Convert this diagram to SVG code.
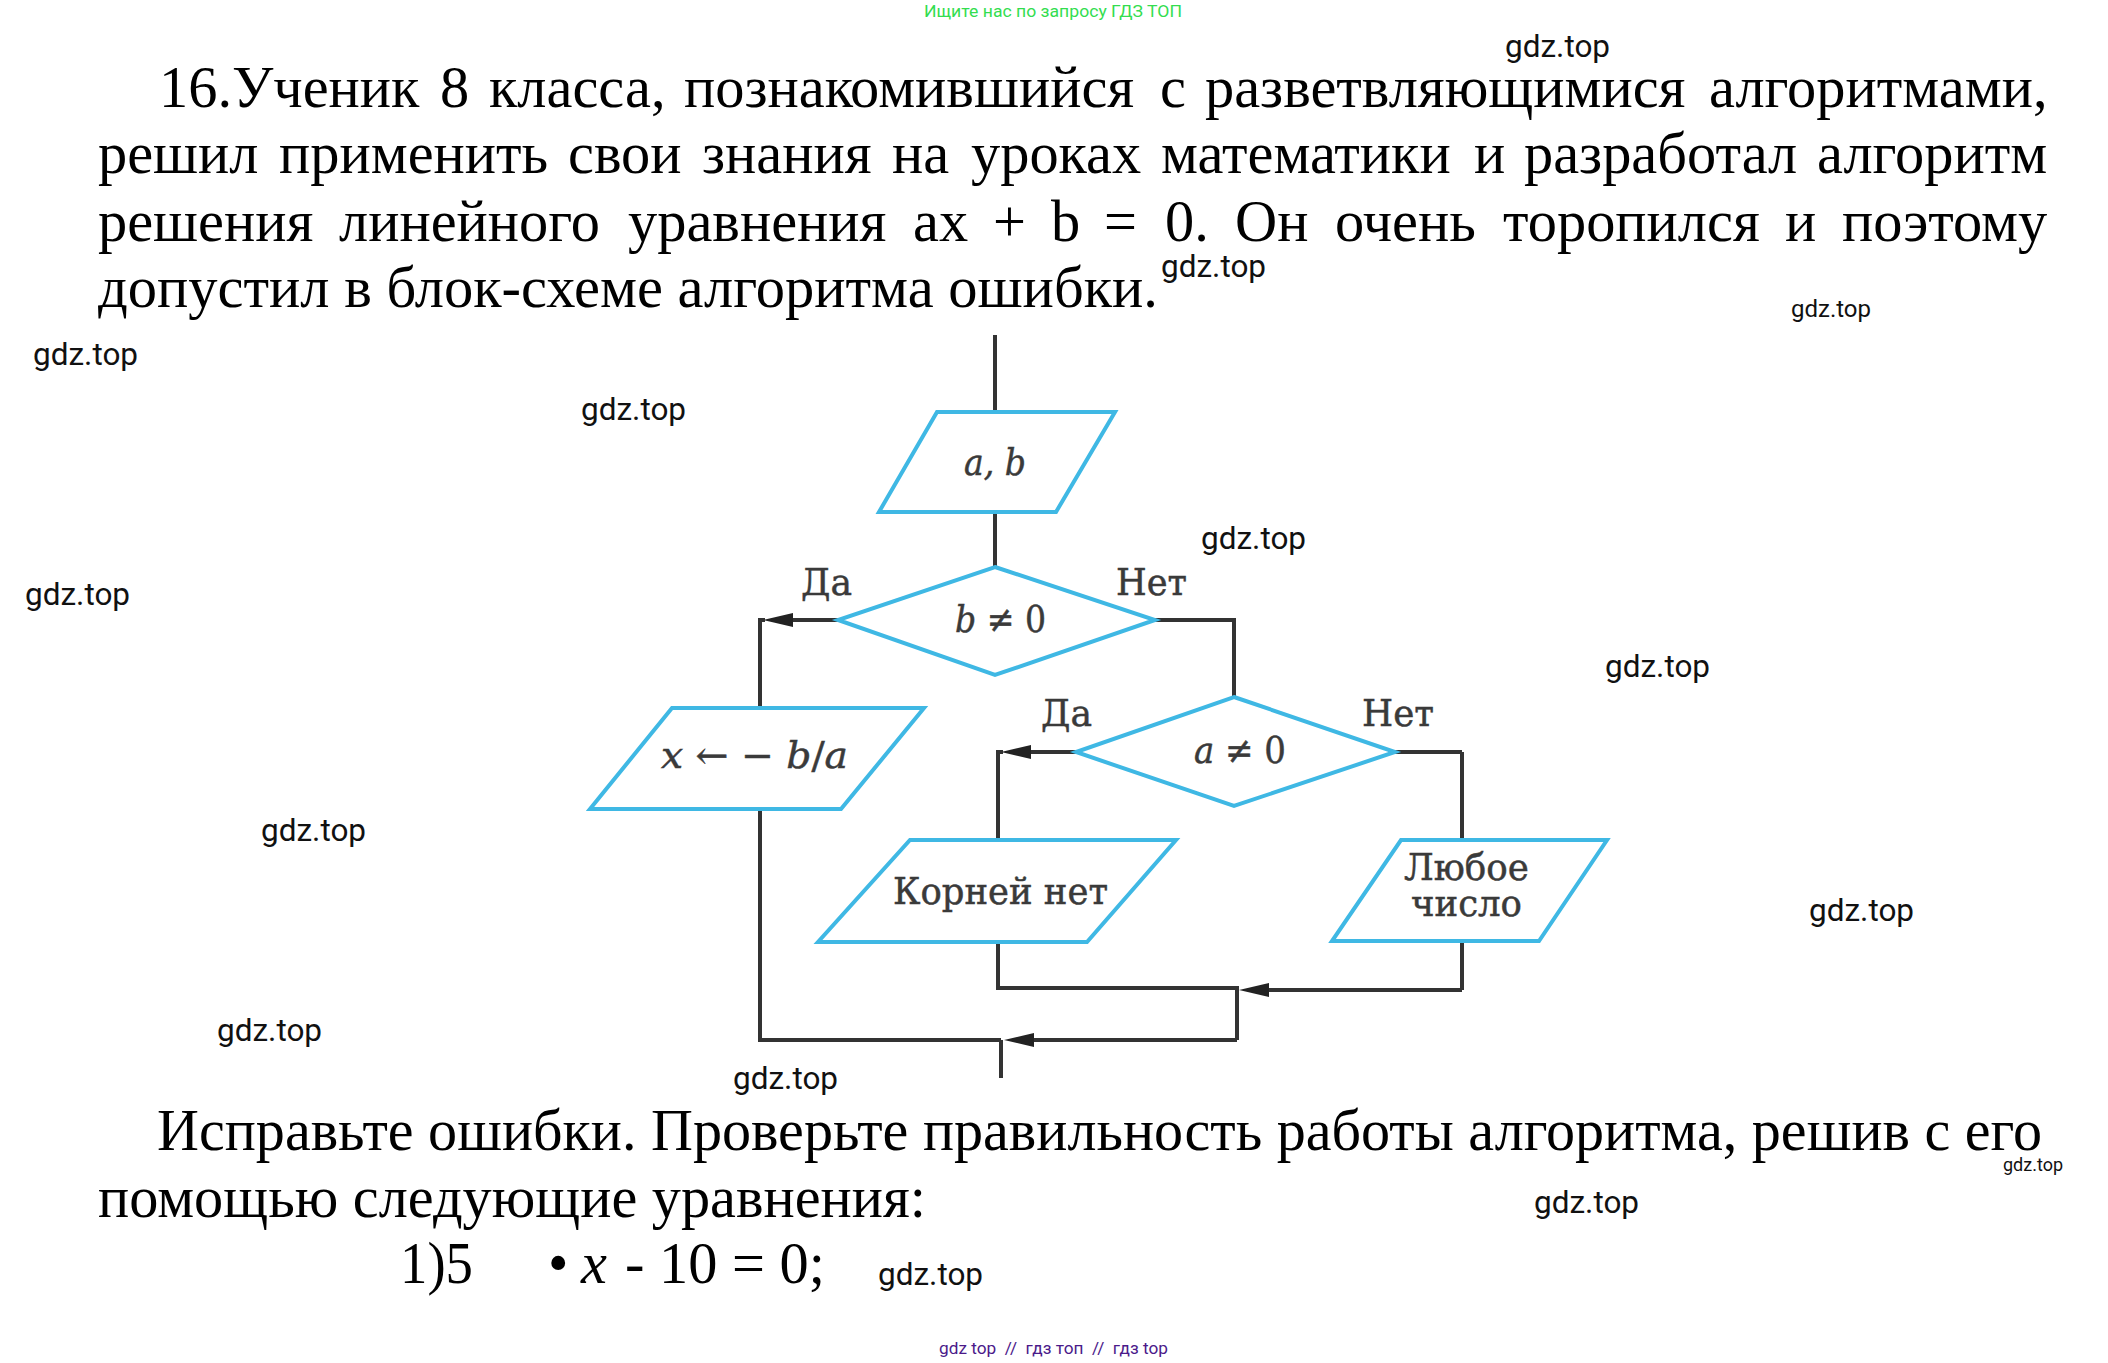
<svg xmlns="http://www.w3.org/2000/svg" width="2108" height="1363" viewBox="0 0 2108 1363">
<style>
.m{font-family:"Liberation Serif","Times New Roman",serif;font-size:58.4px;fill:#000}
.w{font-family:Roboto,"Liberation Sans",sans-serif;font-size:31.5px;fill:#111}
.f{font-family:"DejaVu Serif","Liberation Serif",serif;fill:#3a3a3a;stroke:#3a3a3a;stroke-width:.5;font-size:37px}
.i{font-style:italic}
.s{fill:#fff;stroke:#3fb8e4;stroke-width:4;stroke-linejoin:miter}
.c{fill:none;stroke:#333;stroke-width:4}
</style>
<defs>
<marker id="a" markerUnits="userSpaceOnUse" markerWidth="30" markerHeight="14" refX="0" refY="7" orient="auto"><path d="M0 0L30 7L0 14Z" fill="#222"/></marker>
</defs>
<rect width="2108" height="1363" fill="#fff"/>
<g id="text">
<text class="m" y="107"><tspan x="159">16.Ученик</tspan><tspan x="440">8</tspan><tspan x="489">класса,</tspan><tspan x="684">познакомившийся</tspan><tspan x="1160">с</tspan><tspan x="1205">разветвляющимися</tspan><tspan x="1709">алгоритмами,</tspan></text>
<text class="m" y="173"><tspan x="98">решил</tspan><tspan x="279">применить</tspan><tspan x="568">свои</tspan><tspan x="702">знания</tspan><tspan x="892">на</tspan><tspan x="971">уроках</tspan><tspan x="1161">математики</tspan><tspan x="1474">и</tspan><tspan x="1524">разработал</tspan><tspan x="1817">алгоритм</tspan></text>
<text class="m" y="241"><tspan x="98">решения</tspan><tspan x="339">линейного</tspan><tspan x="628">уравнения</tspan><tspan x="913">ax</tspan><tspan x="993">+</tspan><tspan x="1051">b</tspan><tspan x="1104">=</tspan><tspan x="1165">0.</tspan><tspan x="1235">Он</tspan><tspan x="1335">очень</tspan><tspan x="1503">торопился</tspan><tspan x="1785">и</tspan><tspan x="1842">поэтому</tspan></text>
<text class="m" x="98" y="307" textLength="1060" lengthAdjust="spacingAndGlyphs">допустил в блок-схеме алгоритма ошибки.</text>
<text class="m" x="157" y="1150" textLength="1885" lengthAdjust="spacingAndGlyphs">Исправьте ошибки. Проверьте правильность работы алгоритма, решив с его</text>
<text class="m" x="98" y="1217" textLength="828" lengthAdjust="spacingAndGlyphs">помощью следующие уравнения:</text>
<text class="m" x="400" y="1283" textLength="73" lengthAdjust="spacingAndGlyphs">1)5</text>
<text class="m" y="1283"><tspan x="548">•</tspan><tspan x="581" class="i">x</tspan><tspan x="625">- 10 = 0;</tspan></text>
</g>
<g id="connectors">
<path class="c" d="M995 335V412M995 512V567"/>
<path class="c" marker-end="url(#a)" d="M838 620H793"/>
<path class="c" d="M765 620H760V708M760 809V1040H1001"/>
<path class="c" d="M1155 620H1234V697"/>
<path class="c" marker-end="url(#a)" d="M1076 752H1031"/>
<path class="c" d="M1003 752H998V840M998 942V988H1237V1040"/>
<path class="c" marker-end="url(#a)" d="M1237 1040H1034"/>
<path class="c" d="M1462 752V840M1395 752H1462M1462 941V990"/>
<path class="c" marker-end="url(#a)" d="M1462 990H1269"/>
<path class="c" d="M1001 1040V1078"/>
</g>
<g id="n1"><polygon class="s" points="937,412 1115,412 1056,512 879,512"/><text class="f i" x="964" y="475" textLength="62" lengthAdjust="spacingAndGlyphs">a, b</text></g>
<g id="n2"><polygon class="s" points="995,567 1155,620 995,675 838,620"/><text class="f" x="955" y="632" textLength="91" lengthAdjust="spacingAndGlyphs"><tspan class="i">b</tspan> ≠ 0</text></g>
<g id="n2-yes"><text class="f" x="801" y="595" textLength="51" lengthAdjust="spacingAndGlyphs">Да</text></g>
<g id="n2-no"><text class="f" x="1116" y="595" textLength="71" lengthAdjust="spacingAndGlyphs">Нет</text></g>
<g id="n3"><polygon class="s" points="672,708 924,708 841,809 590,809"/><text class="f" x="661" y="768" textLength="187" lengthAdjust="spacingAndGlyphs"><tspan class="i">x</tspan> ← − <tspan class="i">b</tspan>/<tspan class="i">a</tspan></text></g>
<g id="n4"><polygon class="s" points="1234,697 1395,752 1234,806 1076,752"/><text class="f" x="1194" y="763" textLength="92" lengthAdjust="spacingAndGlyphs"><tspan class="i">a</tspan> ≠ 0</text></g>
<g id="n4-yes"><text class="f" x="1041" y="726" textLength="51" lengthAdjust="spacingAndGlyphs">Да</text></g>
<g id="n4-no"><text class="f" x="1362" y="726" textLength="72" lengthAdjust="spacingAndGlyphs">Нет</text></g>
<g id="n5"><polygon class="s" points="910,840 1176,840 1087,942 818,942"/><text class="f" x="893" y="904" textLength="215" lengthAdjust="spacingAndGlyphs">Корней нет</text></g>
<g id="n6"><polygon class="s" points="1401,840 1607,840 1539,941 1332,941"/><text class="f" x="1404" y="880" textLength="125" lengthAdjust="spacingAndGlyphs">Любое</text><text class="f" x="1411" y="916" textLength="111" lengthAdjust="spacingAndGlyphs">число</text></g>
<g id="watermarks">
<text x="924" y="17" font-family="Roboto,sans-serif" font-size="16.5" fill="#33dd4f" textLength="258" lengthAdjust="spacingAndGlyphs">Ищите нас по запросу ГДЗ ТОП</text>
<text x="939" y="1354" font-family="Roboto,sans-serif" font-size="16.5" fill="#4b1a8a" textLength="229" lengthAdjust="spacingAndGlyphs" xml:space="preserve">gdz top  //  гдз топ  //  гдз top</text>
<text class="w" x="1505" y="57">gdz.top</text>
<text class="w" x="1161" y="277">gdz.top</text>
<text class="w" x="1791" y="317" style="font-size:24px">gdz.top</text>
<text class="w" x="33" y="365">gdz.top</text>
<text class="w" x="581" y="420">gdz.top</text>
<text class="w" x="1201" y="549">gdz.top</text>
<text class="w" x="25" y="605">gdz.top</text>
<text class="w" x="1605" y="677">gdz.top</text>
<text class="w" x="261" y="841">gdz.top</text>
<text class="w" x="1809" y="921">gdz.top</text>
<text class="w" x="217" y="1041">gdz.top</text>
<text class="w" x="733" y="1089">gdz.top</text>
<text class="w" x="2003" y="1171" style="font-size:18px">gdz.top</text>
<text class="w" x="1534" y="1213">gdz.top</text>
<text class="w" x="878" y="1285">gdz.top</text>
</g>
</svg>
